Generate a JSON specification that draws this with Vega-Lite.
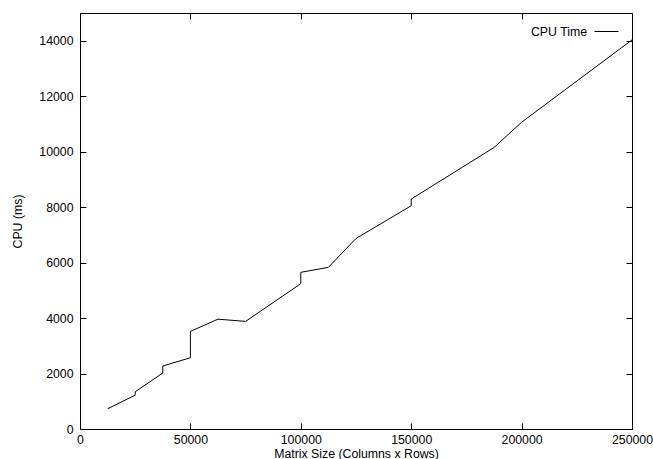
{
  "$schema": "https://vega.github.io/schema/vega-lite/v6.json",
  "width": 552,
  "height": 416,
  "autosize": "none",
  "padding": {"left": 80, "top": 13, "right": 21, "bottom": 30},
  "background": "white",
  "config": {
    "view": {"stroke": null},
    "font": "Liberation Sans",
    "axis": {
      "labelFont": "Liberation Sans",
      "titleFont": "Liberation Sans",
      "labelFontSize": 12.3,
      "titleFontSize": 12.3,
      "titleFontWeight": "normal",
      "labelColor": "#000000",
      "titleColor": "#000000",
      "domainColor": "#000000",
      "tickColor": "#000000",
      "grid": false,
      "tickSize": -6
    },
    "legend": {
      "labelFont": "Liberation Sans",
      "labelFontSize": 12.3,
      "labelColor": "#000000"
    }
  },
  "data": {
    "values": [
      {"i": 1, "size": 12500, "cpu": 730, "series": "CPU Time"},
      {"i": 2, "size": 25000, "cpu": 1220, "series": "CPU Time"},
      {"i": 3, "size": 25000, "cpu": 1340, "series": "CPU Time"},
      {"i": 4, "size": 37500, "cpu": 2020, "series": "CPU Time"},
      {"i": 5, "size": 37500, "cpu": 2270, "series": "CPU Time"},
      {"i": 6, "size": 50000, "cpu": 2570, "series": "CPU Time"},
      {"i": 7, "size": 50000, "cpu": 3520, "series": "CPU Time"},
      {"i": 8, "size": 62500, "cpu": 3960, "series": "CPU Time"},
      {"i": 9, "size": 75000, "cpu": 3880, "series": "CPU Time"},
      {"i": 10, "size": 100000, "cpu": 5240, "series": "CPU Time"},
      {"i": 11, "size": 100000, "cpu": 5650, "series": "CPU Time"},
      {"i": 12, "size": 112500, "cpu": 5830, "series": "CPU Time"},
      {"i": 13, "size": 125000, "cpu": 6870, "series": "CPU Time"},
      {"i": 14, "size": 150000, "cpu": 8050, "series": "CPU Time"},
      {"i": 15, "size": 150000, "cpu": 8290, "series": "CPU Time"},
      {"i": 16, "size": 187500, "cpu": 10150, "series": "CPU Time"},
      {"i": 17, "size": 200000, "cpu": 11060, "series": "CPU Time"},
      {"i": 18, "size": 250000, "cpu": 14030, "series": "CPU Time"}
    ]
  },
  "encoding": {
    "x": {"field": "size", "type": "quantitative", "scale": {"domain": [0, 250000], "nice": false}},
    "y": {"field": "cpu", "type": "quantitative", "scale": {"domain": [0, 15000], "nice": false}}
  },
  "layer": [
    {
      "mark": {"type": "line", "strokeWidth": 1, "interpolate": "linear"},
      "encoding": {
        "order": {"field": "i"},
        "x": {"field": "size", "type": "quantitative", "scale": {"domain": [0, 250000], "nice": false},
          "axis": {"title": "Matrix Size (Columns x Rows)", "values": [0, 50000, 100000, 150000, 200000, 250000], "format": "d", "labelPadding": 10, "titleY": 18, "titleBaseline": "top", "labelFlush": false}},
        "y": {"field": "cpu", "type": "quantitative", "scale": {"domain": [0, 15000], "nice": false},
          "axis": {"title": "CPU (ms)", "values": [0, 2000, 4000, 6000, 8000, 10000, 12000, 14000], "format": "d", "labelPadding": 13, "titlePadding": 14, "labelFlush": false}},
        "color": {"field": "series", "type": "nominal", "scale": {"range": ["#000000"]},
          "legend": {"title": null, "orient": "none", "legendX": 514, "legendY": 6, "symbolType": "stroke", "symbolSize": 576, "symbolStrokeWidth": 1, "labelAlign": "right", "labelOffset": -32, "padding": 0}}
      }
    },
    {
      "mark": {"type": "line", "strokeWidth": 0, "opacity": 0},
      "encoding": {
        "order": {"field": "i"},
        "x": {"field": "size", "type": "quantitative", "axis": {"orient": "top", "title": null, "labels": false, "values": [0, 50000, 100000, 150000, 200000, 250000]}},
        "y": {"field": "cpu", "type": "quantitative", "axis": {"orient": "right", "title": null, "labels": false, "values": [0, 2000, 4000, 6000, 8000, 10000, 12000, 14000]}}
      }
    }
  ],
  "resolve": {"axis": {"x": "independent", "y": "independent"}}
}
